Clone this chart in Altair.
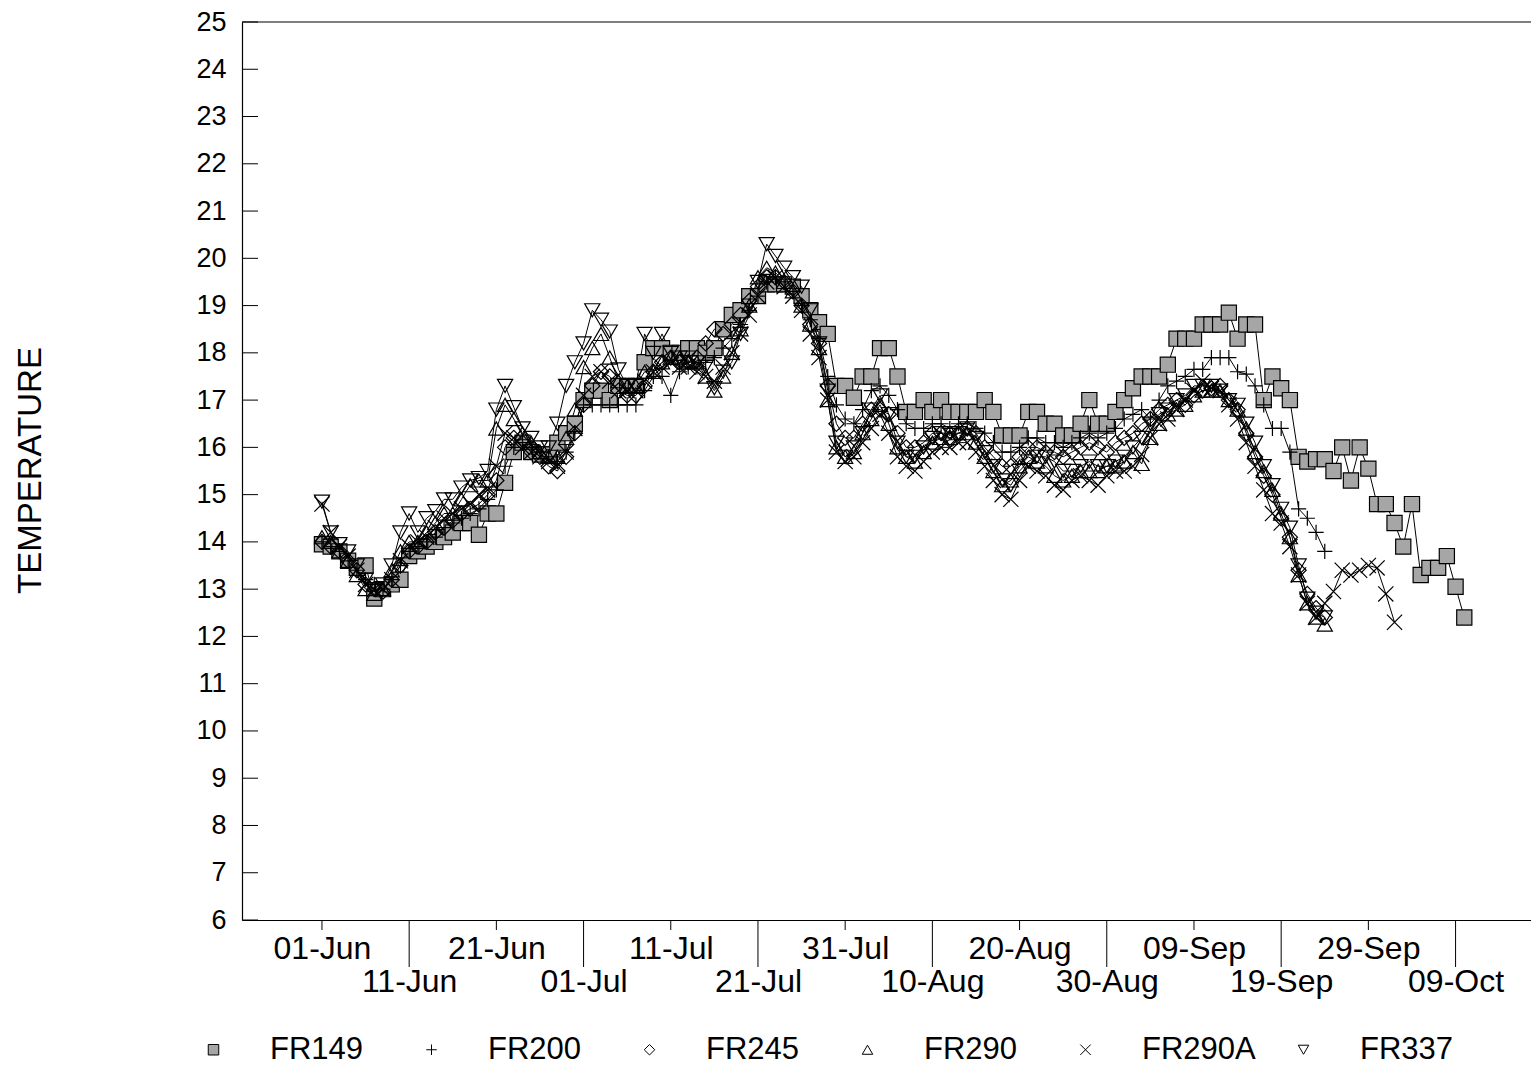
import altair as alt
import pandas as pd

# ---------------- data (day 0 = 01-Jun, one reading per day) ----------------
series_names = ["FR149", "FR200", "FR245", "FR290", "FR290A", "FR337"]

fr149 = [13.95, 13.9, 13.8, 13.6, 13.45, 13.5, 12.8, 13.0, 13.1, 13.2,
         13.7, 13.8, 13.9, 14.0, 14.1, 14.2, 14.4, 14.4, 14.15, 14.6,
         14.6, 15.25, 15.9, 16.1, 15.9, 15.85, 15.85, 16.1, 16.3, 16.5,
         17.0, 17.2, 17.2, 17.0, 17.3, 17.3, 17.3, 17.8, 18.1, 18.1,
         18.0, 18.0, 18.1, 18.1, 18.0, 18.1, 18.5, 18.8, 18.9, 19.2,
         19.2, 19.45, 19.45, 19.45, 19.4, 19.2, 18.9, 18.65, 18.4, 17.3,
         17.3, 17.05, 17.5, 17.5, 18.1, 18.1, 17.5, 16.75, 16.75, 17.0,
         16.75, 17.0, 16.75, 16.75, 16.75, 16.75, 17.0, 16.75, 16.25, 16.25,
         16.25, 16.75, 16.75, 16.5, 16.5, 16.25, 16.25, 16.5, 17.0, 16.5,
         16.5, 16.75, 17.0, 17.25, 17.5, 17.5, 17.5, 17.75, 18.3, 18.3,
         18.3, 18.6, 18.6, 18.6, 18.85, 18.3, 18.6, 18.6, 17.0, 17.5,
         17.25, 17.0, 15.8, 15.7, 15.75, 15.75, 15.5, 16.0, 15.3, 16.0,
         15.55, 14.8, 14.8, 14.4, 13.9, 14.8, 13.3, 13.45, 13.45, 13.7,
         13.05, 12.4]

fr200 = [14.0, 13.9, 13.8, 13.6, 13.4, 13.2, 13.1, 13.0, 13.2, 13.5,
         13.8, 13.9, 14.0, 14.1, 14.3, 14.4, 14.5, 14.6, 14.7, 14.9,
         15.1, 15.6, 16.0, 16.1, 16.0, 15.9, 15.8, 15.7, 15.9, 16.3,
         16.9, 16.9, 16.9, 16.9, 16.9, 16.9, 16.9, 17.2, 17.5, 17.5,
         17.1, 17.6, 17.7, 17.7, 17.8, 17.9, 18.1, 18.3, 18.6, 18.9,
         19.2, 19.5, 19.6, 19.5, 19.3, 19.0, 18.7, 18.3, 17.5, 16.9,
         16.6, 16.5, 16.8, 17.2, 17.3, 17.1, 16.8, 16.5, 16.4, 16.4,
         16.5, 16.5, 16.4, 16.5, 16.5, 16.4, 16.3, 16.1, 15.9, 15.9,
         16.0, 16.2, 16.2, 16.1, 16.1, 16.0, 16.1, 16.2, 16.3, 16.2,
         16.3, 16.4, 16.6, 16.7, 16.8, 16.6, 17.0, 17.3, 17.4, 17.5,
         17.65, 17.65, 17.9, 17.9, 17.9, 17.6, 17.55, 17.3, 16.9, 16.4,
         16.4, 15.9, 14.7, 14.5, 14.2, 13.8]

fr245 = [14.0, 13.9, 13.8, 13.6, 13.4, 13.1, 13.0, 12.95, 13.2, 13.5,
         13.8, 13.9, 14.0, 14.2, 14.3, 14.45, 14.6, 14.7, 14.8, 15.0,
         15.3, 16.0, 16.2, 16.1, 15.9, 15.8, 15.6, 15.5, 15.8, 16.3,
         16.9, 17.3, 17.6, 17.5, 17.2, 17.1, 17.1, 17.3, 17.6, 17.8,
         17.9, 17.8, 17.8, 17.9, 18.2, 18.5, 18.4, 18.6, 18.8, 19.1,
         19.4, 19.6, 19.6, 19.5, 19.3, 19.0, 18.6, 18.2, 17.3, 16.5,
         16.2, 16.2, 16.5, 16.8, 16.8, 16.7, 16.3, 16.0, 16.0, 16.1,
         16.3, 16.3, 16.2, 16.3, 16.4, 16.3, 16.0, 15.8, 15.6, 15.6,
         15.8, 16.0, 16.0, 15.9, 15.9, 15.8, 15.9, 16.0, 16.1, 16.0,
         15.9, 16.1, 16.2, 16.3, 16.5, 16.6, 16.8, 16.9, 17.0, 16.9,
         17.1, 17.2, 17.25, 17.3, 17.0, 16.8, 16.3, 15.8, 15.4, 15.0,
         14.5, 14.1, 13.4, 12.9, 12.6, 12.4]

fr290 = [14.1, 14.0, 13.8, 13.6, 13.3, 13.0, 12.9, 13.0, 13.4, 13.8,
         14.0, 14.0, 14.2, 14.4, 14.6, 14.6, 14.9, 15.2, 15.3, 15.3,
         16.4, 16.9, 16.6, 16.3, 16.1, 15.9, 15.8, 15.8, 16.2, 16.8,
         17.7, 18.1, 18.4, 17.9, 17.4, 17.3, 17.3, 17.6, 17.6, 17.8,
         17.9, 17.9, 17.8, 17.8, 17.5, 17.2, 17.5, 18.0, 18.5, 19.0,
         19.6, 19.8, 19.7, 19.5, 19.3, 19.0, 18.6, 18.1, 17.0, 16.0,
         15.8, 15.9, 16.3, 16.6, 16.9, 16.5, 16.0, 15.8, 15.7, 15.9,
         16.1, 16.2, 16.2, 16.3, 16.3, 16.1, 15.8, 15.5, 15.2, 15.3,
         15.6, 15.8, 15.7, 15.6, 15.4, 15.3, 15.4, 15.5, 15.5, 15.5,
         15.6, 15.6, 15.7, 15.9, 15.65, 16.2, 16.5, 16.7, 16.8, 16.9,
         17.1, 17.2, 17.2, 17.2, 17.0, 16.8, 16.4, 15.9, 15.5, 15.1,
         14.6, 14.1, 13.3, 12.7, 12.4, 12.25]

fr290a = [14.8, 14.2, 13.9, 13.7, 13.4, 13.1, 13.0, 13.0, 13.2, 13.6,
          13.9, 14.0, 14.1, 14.3, 14.5, 14.6, 14.7, 14.8, 15.0, 15.1,
          15.6, 16.3, 16.2, 16.0, 15.9, 15.8, 15.7, 15.6, 15.9, 16.4,
          17.1, 17.5, 17.6, 17.4, 17.2, 17.2, 17.2, 17.4, 17.6, 17.7,
          17.8, 17.7, 17.7, 17.6, 17.5, 17.4, 17.7, 18.0, 18.4, 18.8,
          19.2, 19.5, 19.6, 19.4, 19.2, 18.9, 18.4, 17.9, 17.0, 15.9,
          15.7, 15.8, 16.1, 16.4, 16.7, 16.3, 15.8, 15.6, 15.5, 15.7,
          15.9, 16.0, 16.0, 16.1, 16.1, 15.9, 15.6, 15.3, 15.0, 14.9,
          15.3, 15.6, 15.5, 15.4, 15.2, 15.1, 15.3, 15.4, 15.3, 15.2,
          15.4, 15.5, 15.5, 15.6, 15.85, 16.2, 16.5, 16.6, 16.8, 17.0,
          17.2, 17.4, 17.25, 17.2, 16.9, 16.6, 16.1, 15.6, 15.1, 14.6,
          14.4, 13.9, 13.3, 12.7, 12.4, 12.7, 12.95, 13.4, 13.3, 13.4,
          13.5, 13.45, 12.9, 12.3]

fr337 = [14.85, 14.2, 13.95, 13.8, 13.5, 13.2, 13.0, 13.1, 13.5, 14.2,
         14.6, 14.2, 14.5, 14.65, 14.9, 14.9, 15.15, 15.3, 15.35, 15.5,
         16.8, 17.3, 16.85, 16.4, 16.2, 16.0, 16.0, 16.5, 17.3, 17.8,
         18.2, 18.9, 18.7, 18.45, 17.65, 17.3, 17.3, 18.4, 18.0, 18.4,
         18.0, 17.9, 17.9, 17.8, 17.7, 17.25, 17.6, 17.8, 18.4, 19.0,
         19.5, 20.3, 20.05, 19.8, 19.6, 19.4, 18.9, 18.2, 17.2, 16.1,
         15.8, 16.0, 16.3, 16.8, 17.1, 16.7, 16.1, 15.8, 15.8, 16.0,
         16.2, 16.3, 16.3, 16.3, 16.4, 16.2, 15.9, 15.6, 15.3, 15.2,
         15.5, 15.7, 15.8, 15.8, 15.7, 15.5, 15.5, 15.6, 15.7, 15.6,
         15.6, 15.7, 15.8, 16.0, 16.2, 16.5, 16.7, 16.8, 17.0, 17.1,
         17.3, 17.3, 17.3, 17.2, 17.0, 16.9, 16.5, 16.1, 15.6, 15.2,
         14.7, 14.3, 13.5, 12.8, 12.5, 12.4]

x_tick_days = [0, 10, 20, 30, 40, 50, 60, 70, 80, 90, 100, 110, 120, 130]
y_ticks = list(range(6, 26))

rows = []
for name, vals in zip(series_names, [fr149, fr200, fr245, fr290, fr290a, fr337]):
    for d, v in enumerate(vals):
        rows.append({"series": name, "day": d, "temp": v})
df = pd.DataFrame(rows)

ticks_df = pd.DataFrame({"day": x_tick_days,
                         "long": [(d // 10) % 2 == 1 for d in x_tick_days]})
yticks_df = pd.DataFrame({"temp": y_ticks})

# ---------------- styling ----------------
W, H = 1289, 898
FONT = "Liberation Sans"
xscale = alt.Scale(domain=[-9.17, 138.65], nice=False, zero=False)
yscale = alt.Scale(domain=[6, 25], nice=False, zero=False)

shape_range = ["square", "M-1,0L1,0M0,-1L0,1", "diamond", "triangle-up",
               "M-1,-1L1,1M1,-1L-1,1", "triangle-down"]
fill_range = ["#a6a6a6", "transparent", "transparent", "transparent",
              "transparent", "transparent"]
stroke_range = ["black", "black", "black", "black", "black", "black"]

date_fmt = "timeFormat(datetime(1990, 5, 1 + datum.value), '%d-%b')"
x_axis = alt.Axis(values=x_tick_days, ticks=False, grid=False,
                  domainColor="black", domainWidth=1.2,
                  labelExpr="(datum.value % 20 == 10) ? ['', " + date_fmt + "] : " + date_fmt,
                  labelFont=FONT, labelFontSize=32, labelColor="black",
                  labelLineHeight=33,
                  labelBaseline="top", labelFlush=False, labelOverlap=False,
                  labelPadding=13, title="")
y_axis = alt.Axis(values=y_ticks, ticks=False, grid=False,
                  domainColor="black", domainWidth=1.2,
                  labelFont=FONT, labelFontSize=27, labelColor="black",
                  labelPadding=16, labelOverlap=False, labelFlush=False,
                  title="TEMPERATURE", titleFont=FONT, titleFontSize=33,
                  titleFontWeight="normal", titleColor="black",
                  titleX=-212, titleY=448, titleAngle=270,
                  titleAlign="center", titleBaseline="middle")

legend = alt.Legend(title=None, orient="none", legendX=-44, legendY=1012,
                    direction="horizontal", columns=6, gridAlign="all",
                    columnPadding=32, labelOffset=41, labelFont=FONT,
                    labelFontSize=31, labelColor="black", symbolSize=110,
                    symbolStrokeColor="black", symbolStrokeWidth=1)

lines = alt.Chart(df).mark_line(color="black", strokeWidth=1).encode(
    x=alt.X("day:Q", scale=xscale, axis=x_axis),
    y=alt.Y("temp:Q", scale=yscale, axis=y_axis),
    detail="series:N",
)

points = alt.Chart(df).mark_point(filled=False, size=230, strokeWidth=1.2,
                                  opacity=1).encode(
    x=alt.X("day:Q", scale=xscale),
    y=alt.Y("temp:Q", scale=yscale),
    shape=alt.Shape("series:N", scale=alt.Scale(domain=series_names, range=shape_range),
                    legend=legend),
    fill=alt.Fill("series:N", scale=alt.Scale(domain=series_names, range=fill_range),
                  legend=legend),
    stroke=alt.Stroke("series:N", scale=alt.Scale(domain=series_names, range=stroke_range),
                      legend=legend),
)

short_ticks = alt.Chart(ticks_df).transform_filter("!datum.long").mark_rule(
    color="black", strokeWidth=1).encode(
    x=alt.X("day:Q", scale=xscale),
    y=alt.value(H), y2=alt.value(H + 10))

long_ticks = alt.Chart(ticks_df).transform_filter("datum.long").mark_rule(
    color="black", strokeWidth=1).encode(
    x=alt.X("day:Q", scale=xscale),
    y=alt.value(H), y2=alt.value(H + 47))

y_tick_marks = alt.Chart(yticks_df).mark_rule(color="black", strokeWidth=1).encode(
    y=alt.Y("temp:Q", scale=yscale),
    x=alt.value(0), x2=alt.value(16))

top_line = alt.Chart(pd.DataFrame({"k": [0]})).mark_rule(
    color="black", strokeWidth=1.2).encode(
    x=alt.value(0), x2=alt.value(W), y=alt.value(0))

chart = alt.layer(lines, points, short_ticks, long_ticks, y_tick_marks, top_line).properties(
    width=W, height=H,
    autosize=alt.AutoSizeParams(type="none"),
    padding={"left": 234, "top": 14, "right": 0, "bottom": 150},
    background="white",
).configure_view(stroke=None)

chart.save("out.html", embed_options={"renderer": "svg", "actions": False})
